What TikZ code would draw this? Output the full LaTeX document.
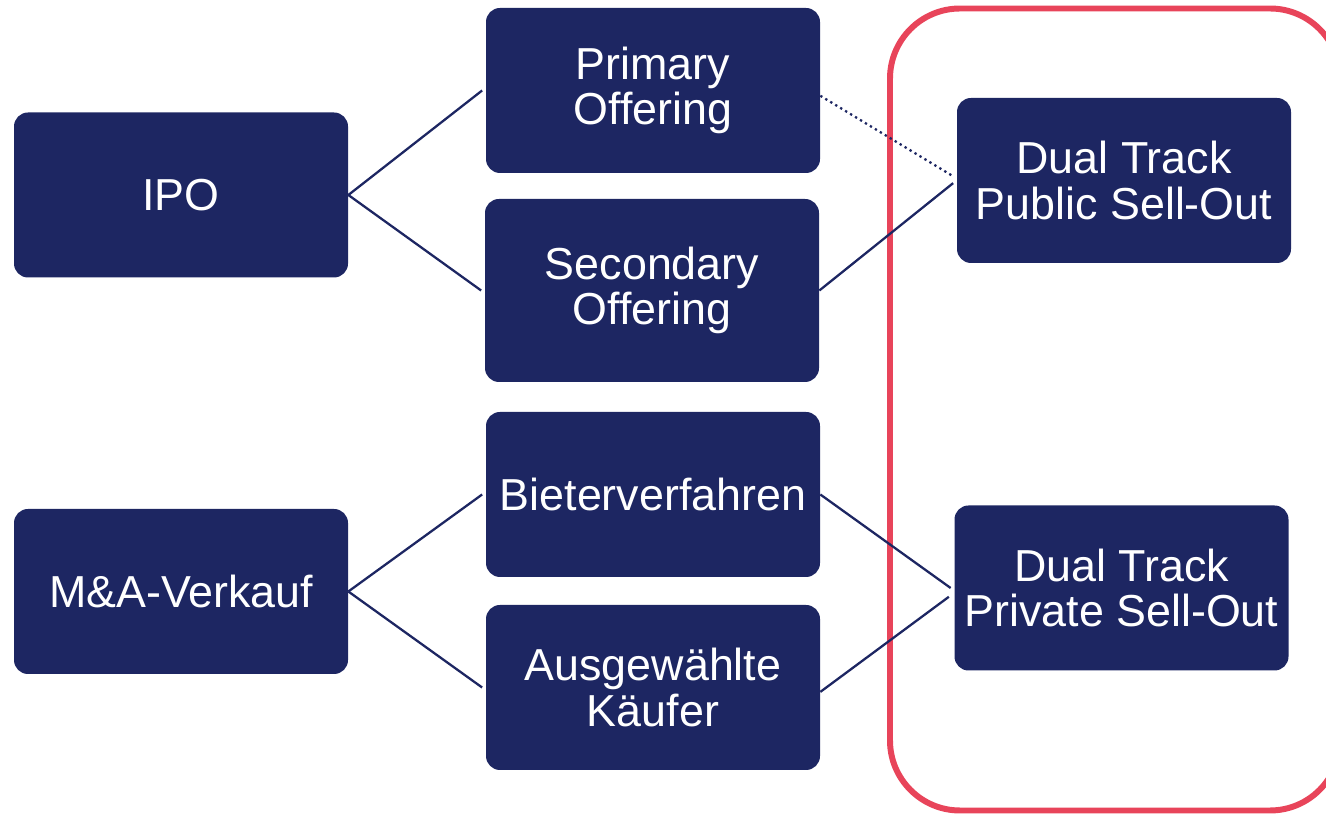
\documentclass[tikz,border=0pt]{standalone}
\usepackage{fontspec}
\setmainfont{Liberation Sans}
\definecolor{navy}{RGB}{29,38,98}
\definecolor{trackred}{RGB}{232,68,90}
\tikzset{
  box/.style={fill=navy, text=white, rounded corners=0.28cm, minimum width=6.68cm,
    minimum height=3.3cm, align=center, inner sep=0pt,
    font=\fontsize{25.5}{26}\selectfont},
  link/.style={draw=navy, line width=1.3pt}
}
\begin{document}
\begin{tikzpicture}
\useasboundingbox (0,0) rectangle (26.52,16.28);

\draw[trackred, line width=3.4pt, rounded corners=1.4cm] (17.8,0.07) rectangle (26.8,16.11);

\node[box] (ipo) at (3.62,12.38) {IPO};
\node[box] (ma) at (3.62,4.45) {M\&A-Verkauf};

\node[box] (prim) at (13.06,14.47) {Primary\\Offering};
\node[box, minimum height=3.66cm] (sec) at (13.04,10.47) {Secondary\\Offering};
\node[box] (bieter) at (13.06,6.39) {Bieterverfahren};
\node[box] (ausg) at (13.06,2.53) {Ausgewählte\\Käufer};

\node[box] (pub) at (22.48,12.67) {Dual Track\\Public Sell-Out};
\node[box] (priv) at (22.43,4.52) {Dual Track\\Private Sell-Out};

\draw[link] (ipo.east) -- ([xshift=-2pt]prim.west);
\draw[link] (ipo.east) -- ([xshift=-2pt]sec.west);
\draw[link] (ma.east) -- ([xshift=-2pt]bieter.west);
\draw[link] (ma.east) -- ([xshift=-2pt]ausg.west);

\draw[link, dotted] ([yshift=-3pt]prim.east) -- ([xshift=-3pt,yshift=3pt]pub.west);
\draw[link] (sec.east) -- ([xshift=-2pt,yshift=-1.5pt]pub.west);
\draw[link] (bieter.east) -- ([xshift=-2pt]priv.west);
\draw[link] ([yshift=-2.5pt]ausg.east) -- ([xshift=-3pt,yshift=-5pt]priv.west);
\end{tikzpicture}
\end{document}
